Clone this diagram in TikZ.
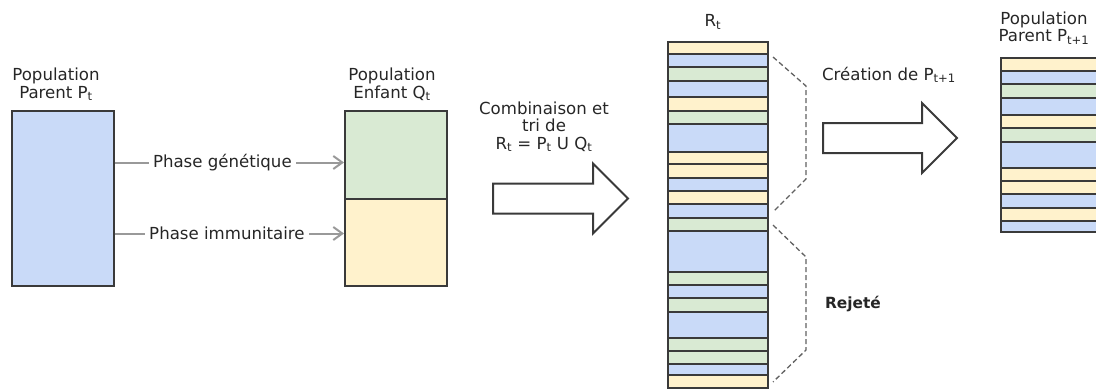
\documentclass[tikz,border=0pt]{standalone}
\usepackage{fontspec}
\setmainfont{DejaVu Sans}
\usetikzlibrary{positioning, arrows.meta, shapes.arrows, calc}

\definecolor{popblue}{HTML}{C9DAF8}
\definecolor{popgreen}{HTML}{D9EAD3}
\definecolor{popyellow}{HTML}{FFF2CC}
\definecolor{edge}{HTML}{3A3A3A}
\definecolor{flowgrey}{HTML}{999999}
\definecolor{txt}{HTML}{262626}

% small lowered index, as in P_t
\newcommand\subt[1]{\textsubscript{#1}}

\begin{document}
\begin{tikzpicture}[x=1pt, y=-1pt,
  popbox/.style={draw=edge, line width=2pt, minimum width=102pt, inner sep=0pt},
  band/.style={draw=edge, line width=2pt},
  lbl/.style={font=\fontsize{16.6}{17.5}\selectfont, text=txt, align=center, inner sep=0pt},
  phase/.style={lbl, fill=white, inner xsep=4pt, inner ysep=2pt},
  flow/.style={draw=flowgrey, line width=2pt, -{Straight Barb[length=9pt, width=13pt]}},
  bigarrow/.style={single arrow, draw=edge, line width=2pt, fill=white, anchor=tail,
                   inner xsep=0pt, inner ysep=14pt, minimum height=135pt,
                   single arrow head extend=20pt, single arrow tip angle=90},
  brace/.style={draw=edge!80, line width=1.3pt, dash pattern=on 5pt off 3pt},
]
\useasboundingbox (0,0) rectangle (1096,389);

% Parent population
\node[popbox, fill=popblue, minimum height=175pt] (pt) at (62.5,198.5) {};
\node[lbl] (ptlbl) at (56,84.4) {Population\\Parent P\subt{t}};

% Child population
\node[popbox, fill=popgreen, minimum height=88pt] (qa) at (396,155) {};
\node[popbox, fill=popyellow, minimum height=87pt] (qb) at (396,242.5) {};
\node[lbl] (qtlbl) at (392,84.4) {Population\\Enfant Q\subt{t}};

% Phases
\coordinate (gen) at ([yshift=36pt]pt.east);
\coordinate (imm) at ([yshift=-35pt]pt.east);
\draw[flow] (gen) -- node[phase, pos=0.47] {Phase génétique} (gen -| qa.west);
\draw[flow] (imm) -- node[phase, pos=0.49] {Phase immunitaire} (imm -| qb.west);

% Combination and sort
\node[bigarrow] (arr1) at (492,198.5) {};
\node[lbl] (comblbl) at (544,126.7) {Combinaison et\\tri de\\R\subt{t} = P\subt{t} U Q\subt{t}};

% Merged population R_t
\node[lbl, anchor=base] (rtlbl) at (713,26.7) {R\subt{t}};
\foreach \ya/\yb/\c in {41.7/54/popyellow, 54/67.3/popblue, 67.3/80.7/popgreen,
    80.7/97.3/popblue, 97.3/110.7/popyellow, 110.7/124/popgreen, 124/151.7/popblue,
    151.7/164.3/popyellow, 164.3/177.7/popyellow, 177.7/191/popblue, 191/204.3/popyellow,
    204.3/217.7/popblue, 217.7/231/popgreen, 231/271.7/popblue, 271.7/285/popgreen,
    285/298.3/popblue, 298.3/311.7/popgreen, 311.7/337.7/popblue, 337.7/351/popgreen,
    351/364.3/popgreen, 364.3/375/popblue, 375/388.3/popyellow}
  \draw[band, fill=\c] (668,\ya) rectangle (768,\yb);

% Kept / rejected halves
\draw[brace] (773,57) -- (806,86) -- (806,179) -- (773,212);
\draw[brace] (773,225) -- (806,257) -- (806,350) -- (773,382);
\node[lbl, anchor=base, font=\fontsize{15.4}{17}\selectfont\bfseries] (rej) at (853,308.3) {Rejeté};

% Next parent population
\node[lbl, anchor=base] (crlbl) at (889,80) {Création de P\subt{t+1}};
\node[bigarrow, minimum height=134pt] (arr2) at (822,138) {};
\node[lbl] (nplbl) at (1044,28) {Population\\Parent P\subt{t+1}};
\foreach \ya/\yb/\c in {58.3/71/popyellow, 71/84.3/popblue, 84.3/97.7/popgreen,
    97.7/115/popblue, 115/128.3/popyellow, 128.3/141.7/popgreen, 141.7/168.3/popblue,
    168.3/181/popyellow, 181/194.3/popyellow, 194.3/207.7/popblue, 207.7/221/popyellow,
    221/232.3/popblue}
  \draw[band, fill=\c] (1001,\ya) rectangle (1101,\yb);

\end{tikzpicture}
\end{document}
